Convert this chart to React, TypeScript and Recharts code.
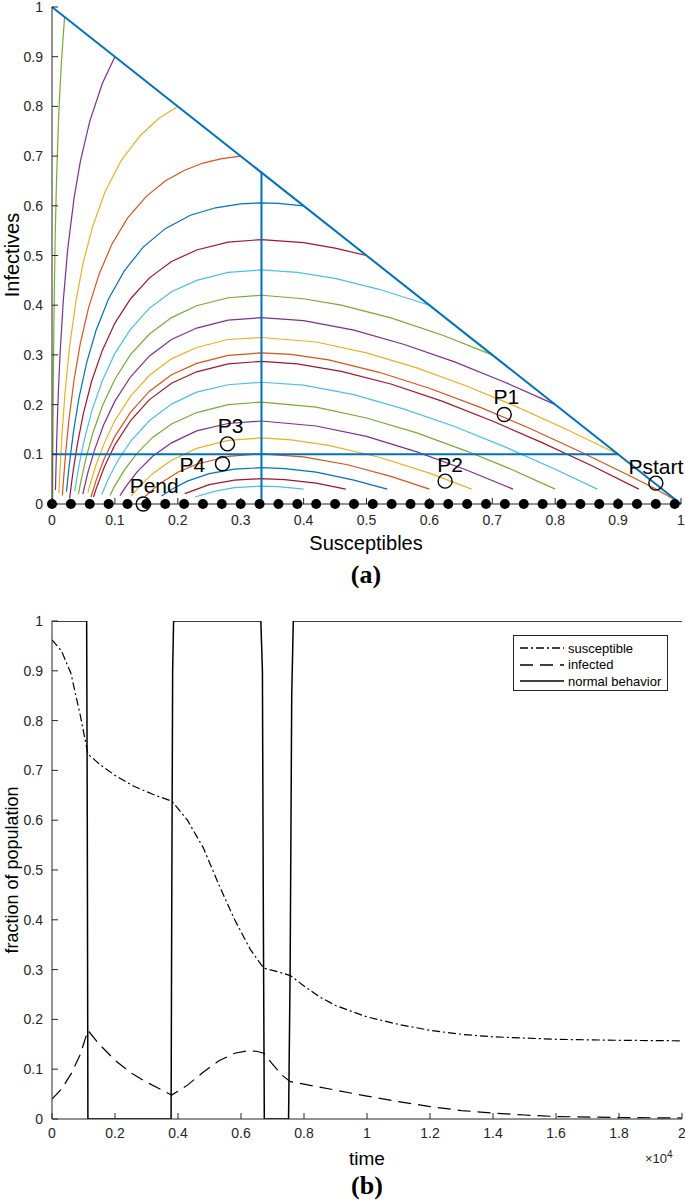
import React from "react";
import { ComposedChart, Line, Scatter, XAxis, YAxis } from "recharts";

// (a) phase plane: trajectories as [susceptible, infective] pairs
const trajS02 = [[0.02, 0.98], [0.015, 0.889], [0.0117, 0.81], [0.01, 0.759], [0.007, 0.643], [0.005, 0.533], [0.003, 0.365], [0.002, 0.23], [0.0012, 0.061], [0.001, 0.0]];
const trajS10 = [[0.1, 0.9], [0.08, 0.846], [0.06, 0.77], [0.045, 0.689], [0.035, 0.615], [0.025, 0.513], [0.018, 0.41], [0.013, 0.307], [0.01, 0.2225], [0.008, 0.15], [0.0065, 0.082], [0.0055, 0.028]];
const trajS20 = [[0.2, 0.8], [0.17, 0.776], [0.14, 0.741], [0.11, 0.691], [0.085, 0.63], [0.065, 0.56], [0.05, 0.488], [0.038, 0.408], [0.028, 0.317], [0.021, 0.228], [0.016, 0.142], [0.013, 0.076], [0.011, 0.022]];
const trajS30 = [[0.3, 0.7], [0.27, 0.695], [0.24, 0.686], [0.21, 0.671], [0.18, 0.65], [0.15, 0.619], [0.12, 0.575], [0.095, 0.522], [0.075, 0.463], [0.058, 0.394], [0.045, 0.323], [0.035, 0.249], [0.027, 0.17], [0.022, 0.107], [0.018, 0.044], [0.0165, 0.017]];
const trajS40 = [[0.4, 0.6], [0.36, 0.605], [0.333, 0.606], [0.3, 0.604], [0.26, 0.596], [0.22, 0.581], [0.18, 0.554], [0.145, 0.517], [0.115, 0.469], [0.09, 0.413], [0.07, 0.349], [0.055, 0.284], [0.043, 0.214], [0.034, 0.144], [0.027, 0.074], [0.023, 0.025]];
const trajS50 = [[0.5, 0.5], [0.45, 0.515], [0.4, 0.526], [0.333, 0.532], [0.28, 0.527], [0.23, 0.511], [0.19, 0.488], [0.155, 0.455], [0.125, 0.413], [0.1, 0.364], [0.08, 0.309], [0.063, 0.247], [0.05, 0.183], [0.04, 0.118], [0.033, 0.061], [0.028, 0.011]];
const trajS60 = [[0.6, 0.4], [0.52, 0.432], [0.45, 0.454], [0.39, 0.466], [0.333, 0.471], [0.28, 0.466], [0.23, 0.45], [0.19, 0.427], [0.155, 0.394], [0.125, 0.352], [0.1, 0.303], [0.08, 0.248], [0.064, 0.19], [0.052, 0.133], [0.043, 0.078], [0.036, 0.026]];
const trajS70 = [[0.7, 0.3], [0.62, 0.34], [0.54, 0.374], [0.46, 0.4], [0.4, 0.413], [0.333, 0.42], [0.28, 0.415], [0.23, 0.399], [0.19, 0.375], [0.155, 0.342], [0.125, 0.301], [0.1, 0.251], [0.08, 0.197], [0.065, 0.143], [0.054, 0.092], [0.045, 0.04], [0.042, 0.02]];
const trajS80 = [[0.8, 0.2], [0.72, 0.245], [0.64, 0.286], [0.56, 0.321], [0.48, 0.35], [0.4, 0.369], [0.333, 0.375], [0.28, 0.37], [0.23, 0.354], [0.19, 0.331], [0.155, 0.298], [0.125, 0.256], [0.1, 0.207], [0.082, 0.159], [0.068, 0.11], [0.057, 0.063], [0.049, 0.02]];
const trajS90 = [[0.9, 0.1], [0.82, 0.149], [0.74, 0.195], [0.66, 0.237], [0.58, 0.274], [0.5, 0.304], [0.42, 0.326], [0.333, 0.335], [0.28, 0.331], [0.23, 0.315], [0.19, 0.292], [0.155, 0.259], [0.125, 0.217], [0.1, 0.168], [0.083, 0.122], [0.07, 0.079], [0.06, 0.037], [0.057, 0.023]];
const trajS99 = [[0.995, 0.005], [0.96, 0.03], [0.92, 0.056], [0.84, 0.105], [0.76, 0.152], [0.68, 0.195], [0.6, 0.233], [0.52, 0.265], [0.44, 0.29], [0.38, 0.301], [0.333, 0.304], [0.28, 0.299], [0.23, 0.283], [0.19, 0.26], [0.155, 0.227], [0.125, 0.185], [0.1, 0.136], [0.083, 0.091], [0.07, 0.047], [0.062, 0.014]];
const lowS933 = [[0.933, 0.03], [0.86, 0.076], [0.78, 0.123], [0.7, 0.167], [0.62, 0.207], [0.54, 0.241], [0.46, 0.267], [0.39, 0.282], [0.333, 0.287], [0.28, 0.282], [0.23, 0.266], [0.19, 0.243], [0.155, 0.21], [0.125, 0.168], [0.1, 0.119], [0.083, 0.074], [0.07, 0.03], [0.066, 0.014]];
const lowS867 = [[0.867, 0.03], [0.8, 0.07], [0.72, 0.115], [0.64, 0.156], [0.56, 0.191], [0.48, 0.22], [0.4, 0.239], [0.333, 0.245], [0.28, 0.24], [0.23, 0.225], [0.19, 0.201], [0.155, 0.168], [0.125, 0.126], [0.105, 0.088], [0.09, 0.052], [0.079, 0.019]];
const lowS800 = [[0.8, 0.03], [0.73, 0.07], [0.66, 0.106], [0.58, 0.143], [0.5, 0.173], [0.42, 0.195], [0.333, 0.205], [0.28, 0.2], [0.23, 0.184], [0.19, 0.161], [0.16, 0.134], [0.135, 0.102], [0.115, 0.068], [0.1, 0.037], [0.092, 0.017]];
const lowS733 = [[0.733, 0.03], [0.66, 0.068], [0.58, 0.105], [0.5, 0.136], [0.42, 0.157], [0.333, 0.167], [0.28, 0.162], [0.23, 0.147], [0.19, 0.123], [0.16, 0.096], [0.135, 0.064], [0.118, 0.036], [0.108, 0.017]];
const lowS667 = [[0.667, 0.03], [0.6, 0.062], [0.52, 0.094], [0.44, 0.118], [0.38, 0.129], [0.333, 0.133], [0.28, 0.128], [0.23, 0.112], [0.19, 0.088], [0.16, 0.061], [0.14, 0.037], [0.126, 0.016]];
const lowS600 = [[0.6, 0.03], [0.54, 0.055], [0.47, 0.079], [0.4, 0.095], [0.333, 0.101], [0.28, 0.096], [0.23, 0.08], [0.2, 0.064], [0.175, 0.044], [0.16, 0.029], [0.148, 0.015]];
const lowS533 = [[0.533, 0.03], [0.48, 0.048], [0.42, 0.064], [0.37, 0.071], [0.333, 0.073], [0.29, 0.07], [0.25, 0.061], [0.215, 0.046], [0.19, 0.029], [0.174, 0.016]];
const lowS467 = [[0.467, 0.03], [0.42, 0.042], [0.37, 0.049], [0.333, 0.051], [0.29, 0.048], [0.25, 0.039], [0.211, 0.021]];
const lowS400 = [[0.4, 0.03], [0.36, 0.035], [0.333, 0.036], [0.29, 0.033], [0.26, 0.026], [0.227, 0.014]];

const diagonal = [[0, 1], [1, 0]];
const thresholdS = [[0.333, 0], [0.333, 0.667]];
const thresholdI = [[0, 0.1], [0.9, 0.1]];

const axisDotsS = [0, 0.03, 0.06, 0.09, 0.12, 0.15, 0.18, 0.21, 0.24, 0.27, 0.3, 0.33, 0.36, 0.39, 0.42, 0.45, 0.48, 0.51, 0.54, 0.57, 0.6, 0.63, 0.66, 0.69, 0.72, 0.75, 0.78, 0.81, 0.84, 0.87, 0.9, 0.93, 0.96, 0.99];

const markerNames = ["Pstart", "P1", "P2", "P3", "P4", "Pend"];
const markerS = [0.96, 0.719, 0.625, 0.279, 0.271, 0.145];
const markerI = [0.042, 0.18, 0.046, 0.121, 0.081, 0];

const unitTicks = [0, 0.1, 0.2, 0.3, 0.4, 0.5, 0.6, 0.7, 0.8, 0.9, 1];

// (b) time series, time in units of 10^4
const susT = [0, 0.03, 0.06, 0.09, 0.114, 0.15, 0.2, 0.26, 0.32, 0.381, 0.43, 0.48, 0.53, 0.58, 0.63, 0.672, 0.72, 0.757, 0.8, 0.85, 0.9, 1.0, 1.1, 1.2, 1.3, 1.4, 1.6, 1.8, 2.0];
const susV = [0.962, 0.94, 0.895, 0.81, 0.733, 0.713, 0.69, 0.668, 0.652, 0.638, 0.6, 0.545, 0.47, 0.4, 0.34, 0.303, 0.295, 0.288, 0.267, 0.245, 0.228, 0.205, 0.19, 0.178, 0.17, 0.165, 0.16, 0.158, 0.157];
const infT = [0, 0.03, 0.06, 0.09, 0.114, 0.15, 0.2, 0.25, 0.3, 0.35, 0.38, 0.43, 0.48, 0.53, 0.58, 0.62, 0.65, 0.672, 0.7, 0.73, 0.757, 0.8, 0.9, 1.0, 1.1, 1.2, 1.3, 1.4, 1.5, 1.6, 1.8, 2.0];
const infV = [0.04, 0.06, 0.09, 0.13, 0.178, 0.15, 0.118, 0.093, 0.074, 0.058, 0.048, 0.068, 0.094, 0.117, 0.132, 0.137, 0.136, 0.132, 0.11, 0.088, 0.075, 0.07, 0.058, 0.046, 0.035, 0.025, 0.017, 0.012, 0.008, 0.005, 0.003, 0.002];
const normT = [0, 0.11, 0.112, 0.114, 0.378, 0.38, 0.383, 0.386, 0.663, 0.668, 0.671, 0.674, 0.751, 0.756, 0.761, 0.766, 2.0];
const normV = [1, 1, 0.6, 0, 0, 0.4, 0.9, 1, 1, 0.9, 0.4, 0, 0, 0.3, 0.85, 1, 1];
const timeTicks = [0, 0.2, 0.4, 0.6, 0.8, 1, 1.2, 1.4, 1.6, 1.8, 2];

const BLUE = "#0072BD", ORANGE = "#D95319", YELLOW = "#EDB120", PURPLE = "#7E2F8E", GREEN = "#77AC30", LBLUE = "#4DBEEE", RED = "#A2142F";
const trajectories = [trajS02, trajS10, trajS20, trajS30, trajS40, trajS50, trajS60, trajS70, trajS80, trajS90, trajS99, lowS933, lowS867, lowS800, lowS733, lowS667, lowS600, lowS533, lowS467, lowS400];
const trajColors = [GREEN, PURPLE, YELLOW, ORANGE, BLUE, RED, LBLUE, GREEN, PURPLE, YELLOW, ORANGE, RED, LBLUE, GREEN, PURPLE, YELLOW, ORANGE, BLUE, RED, LBLUE];

const FONT = '"Liberation Sans", Arial, Helvetica, sans-serif';
const SERIF = '"Liberation Serif", "Times New Roman", serif';
const AXIS = "#262626";
const TICK = 6;

const pts = (arr: number[][]) => arr.map(([s, i]) => ({ s, i }));
const series = (xs: number[], ys: number[]) => xs.map((t, k) => ({ t, v: ys[k] }));
const fmt = (v: number) => String(v);

const bottomTick = (gap: number) => (p: any) => (
  <g>
    <line x1={p.x} x2={p.x} y1={p.y} y2={p.y - TICK} stroke={AXIS} />
    <text x={p.x} y={p.y + gap} textAnchor="middle" dominantBaseline="central" fontFamily={FONT} fontSize={14} fill={AXIS}>
      {fmt(p.payload.value)}
    </text>
  </g>
);
const leftTick = (p: any) => (
  <g>
    <line x1={p.x} x2={p.x + TICK} y1={p.y} y2={p.y} stroke={AXIS} />
    <text x={p.x - 9} y={p.y} textAnchor="end" dominantBaseline="central" fontFamily={FONT} fontSize={14} fill={AXIS}>
      {fmt(p.payload.value)}
    </text>
  </g>
);
const topTick = (p: any) => <line x1={p.x} x2={p.x} y1={p.y} y2={p.y + TICK} stroke={AXIS} />;
const rightTick = (p: any) => <line x1={p.x} x2={p.x - TICK} y1={p.y} y2={p.y} stroke={AXIS} />;

const labelOffset: Record<string, [number, number]> = {
  Pstart: [0, -17], P1: [2, -18], P2: [5, -17], P3: [3, -18], P4: [-30, 1], Pend: [11, -19],
};

function Txt({ x, y, size, children, rotate, bold, serif }: any) {
  return (
    <div
      style={{
        position: "absolute", left: x, top: y, whiteSpace: "nowrap", lineHeight: 1, color: "#000",
        transform: `translate(-50%, -50%)${rotate ? " rotate(-90deg)" : ""}`,
        fontSize: size, fontFamily: serif ? SERIF : FONT, fontWeight: bold ? 700 : 400,
      }}
    >
      {children}
    </div>
  );
}

function PhasePlane() {
  const dots = axisDotsS.map((s) => ({ s, i: 0 }));
  const markers = markerNames.map((name, k) => ({ name, s: markerS[k], i: markerI[k] }));
  return (
    <ComposedChart width={685} height={600} margin={{ top: 7, right: 4, bottom: 0, left: 0 }} style={{ overflow: "visible" }}>
      <XAxis dataKey="s" type="number" domain={[0, 1]} ticks={unitTicks} interval={0}
        height={96} tickSize={0} tickMargin={0} tickLine={false} tick={bottomTick(16)} axisLine={{ stroke: AXIS }} />
      <XAxis xAxisId="top" orientation="top" type="number" domain={[0, 1]} ticks={unitTicks} interval={0} allowDataOverflow
        height={0} tickSize={0} tickMargin={0} tickLine={false} tick={topTick} axisLine={{ stroke: AXIS }} />
      <YAxis dataKey="i" type="number" domain={[0, 1]} ticks={unitTicks} interval={0}
        width={52} tickSize={0} tickMargin={0} tickLine={false} tick={leftTick} axisLine={{ stroke: AXIS }} />
      <YAxis yAxisId="right" orientation="right" type="number" domain={[0, 1]} ticks={unitTicks} interval={0} allowDataOverflow
        width={0} tickSize={0} tickMargin={0} tickLine={false} tick={rightTick} axisLine={{ stroke: AXIS }} />
      {trajectories.map((tr, k) => (
        <Line key={k} data={pts(tr)} dataKey="i" stroke={trajColors[k]} strokeWidth={1.2} dot={false} activeDot={false} isAnimationActive={false} />
      ))}
      {[diagonal, thresholdS, thresholdI].map((tr, k) => (
        <Line key={`g${k}`} data={pts(tr)} dataKey="i" stroke={BLUE} strokeWidth={2} dot={false} activeDot={false} isAnimationActive={false} />
      ))}
      <Scatter data={dots} isAnimationActive={false}
        shape={(p: any) => <circle cx={p.cx} cy={p.cy} r={5} fill="#000" />} />
      <Scatter data={markers} isAnimationActive={false}
        shape={(p: any) => {
          const [dx, dy] = labelOffset[p.payload.name] ?? [0, -18];
          return (
            <g>
              <circle cx={p.cx} cy={p.cy} r={7} fill="none" stroke="#000" strokeWidth={1.4} />
              <text x={p.cx + dx} y={p.cy + dy} textAnchor="middle" dominantBaseline="central" fontFamily={FONT} fontSize={21} fill="#000">
                {p.payload.name}
              </text>
            </g>
          );
        }} />
    </ComposedChart>
  );
}

function TimeSeries() {
  return (
    <ComposedChart width={685} height={602} margin={{ top: 21, right: 3, bottom: 0, left: 0 }}>
      <XAxis dataKey="t" type="number" domain={[0, 2]} ticks={timeTicks} interval={0} allowDataOverflow
        height={83} tickSize={0} tickMargin={0} tickLine={false} tick={bottomTick(14)} axisLine={{ stroke: AXIS }} />
      <XAxis xAxisId="top" orientation="top" type="number" domain={[0, 2]} ticks={timeTicks} interval={0} allowDataOverflow
        height={0} tickSize={0} tickMargin={0} tickLine={false} tick={topTick} axisLine={{ stroke: AXIS }} />
      <YAxis dataKey="v" type="number" domain={[0, 1]} ticks={unitTicks} interval={0} allowDataOverflow
        width={52} tickSize={0} tickMargin={0} tickLine={false} tick={leftTick} axisLine={{ stroke: AXIS }} />
      <YAxis yAxisId="right" orientation="right" type="number" domain={[0, 1]} ticks={unitTicks} interval={0} allowDataOverflow
        width={0} tickSize={0} tickMargin={0} tickLine={false} tick={rightTick} axisLine={{ stroke: AXIS }} />
      <Line data={series(susT, susV)} dataKey="v" stroke="#000" strokeWidth={1.2} strokeDasharray="8 3 2 3" dot={false} activeDot={false} isAnimationActive={false} />
      <Line data={series(infT, infV)} dataKey="v" stroke="#000" strokeWidth={1.2} strokeDasharray="13 7" dot={false} activeDot={false} isAnimationActive={false} />
      <Line data={series(normT, normV)} dataKey="v" stroke="#000" strokeWidth={1.5} dot={false} activeDot={false} isAnimationActive={false} />
    </ComposedChart>
  );
}

const legendRows = [
  { name: "susceptible", dash: "8 3 2 3" },
  { name: "infected", dash: "13 7" },
  { name: "normal behavior", dash: undefined },
];

export default function App() {
  return (
    <div style={{ position: "absolute", left: 0, top: 0, width: 685, height: 1202, background: "#fff" }}>
      <div style={{ position: "absolute", left: 0, top: 0 }}>
        <PhasePlane />
      </div>
      <div style={{ position: "absolute", left: 0, top: 600 }}>
        <TimeSeries />
      </div>
      <Txt x={12} y={255} size={20} rotate>Infectives</Txt>
      <Txt x={366} y={543} size={20}>Susceptibles</Txt>
      <Txt x={366} y={575} size={26} bold serif>(a)</Txt>
      <Txt x={12} y={870} size={18} rotate>fraction of population</Txt>
      <Txt x={367} y={1158} size={19}>time</Txt>
      <Txt x={367} y={1186} size={26} bold serif>(b)</Txt>
      <div style={{ position: "absolute", left: 645, top: 1150, fontFamily: FONT, fontSize: 13, lineHeight: 1, color: AXIS }}>
        ×10<sup style={{ fontSize: 10 }}>4</sup>
      </div>
      <div style={{ position: "absolute", left: 513, top: 635, width: 155, height: 56, border: `1px solid ${AXIS}`, boxSizing: "border-box", background: "#fff" }}>
        {legendRows.map((r, k) => (
          <div key={r.name} style={{ position: "absolute", left: 5, top: 4 + k * 16.5, height: 16, display: "flex", alignItems: "center" }}>
            <svg width={46} height={16}>
              <line x1={1} x2={45} y1={8} y2={8} stroke="#000" strokeWidth={1.3} strokeDasharray={r.dash} />
            </svg>
            <span style={{ marginLeft: 3, fontFamily: FONT, fontSize: 13, color: "#000", lineHeight: 1 }}>{r.name}</span>
          </div>
        ))}
      </div>
    </div>
  );
}
